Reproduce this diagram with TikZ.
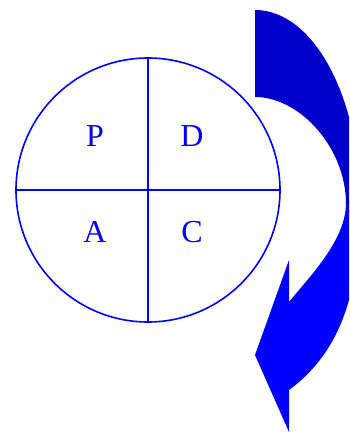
\documentclass[tikz,border=0pt]{standalone}
\usepackage{fontspec}
\setmainfont{Liberation Serif}
\usetikzlibrary{positioning}
\definecolor{cycleblue}{RGB}{0,0,255}
\definecolor{arrowdark}{RGB}{0,0,204}

\begin{document}
\begin{tikzpicture}[
  x=1pt, y=-1pt,
  font=\fontsize{32}{36}\selectfont,
  wheel/.style={circle, draw=cycleblue, line width=1.6pt, minimum size=264pt, inner sep=0pt, outer sep=0pt},
  phase/.style={text=cycleblue, inner sep=0pt},
  split/.style={draw=cycleblue, line width=1.6pt}
]
\useasboundingbox (0,0) rectangle (349,432);

% the cycle
\node[wheel] (wheel) at (148,190) {};
\draw[split] (wheel.north) -- (wheel.south);
\draw[split] (wheel.west) -- (wheel.east);

\node[phase] (plan) at (95,136) {P};
\node[phase] (do) at (192,136) {D};
\node[phase] (act) at (95,232) {A};
\node[phase] (check) at (192,232) {C};

% turning arrow
\begin{scope}
\clip (0,0) rectangle (349,432);
\fill[arrowdark] (255,10) .. controls (313,10) and (360,96) .. (360,204)
  -- (346,204) .. controls (346,148) and (300,97) .. (255,97) -- cycle;
\fill[cycleblue] (360,203) .. controls (360,290) and (342,351) .. (289,390)
  -- (289,432) -- (255,355) -- (289,260) -- (289,302)
  .. controls (310,276) and (346,240) .. (346,203) -- cycle;
\end{scope}
\end{tikzpicture}
\end{document}
